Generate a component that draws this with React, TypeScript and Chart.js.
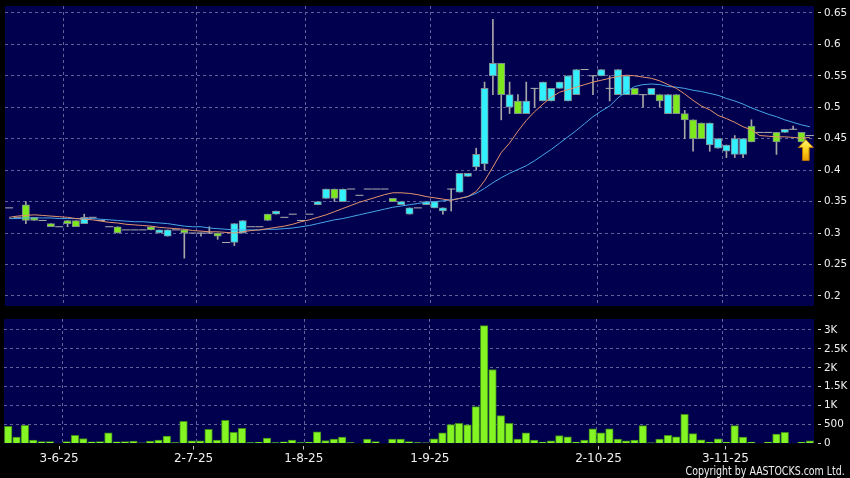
import React, { useEffect, useRef } from "react";
import { Chart, registerables } from "chart.js";

Chart.register(...registerables);

// ---- data ----
const dateLabels = ["3-6-25", "2-7-25", "1-8-25", "1-9-25", "2-10-25", "3-11-25"];
const dateLabelIndex = [6.1, 22.2, 35.4, 50.5, 70.7, 85.9];
const dateGridIndex = [6.5, 22.5, 35.5, 50.5, 70.5, 85.5];

const openP = [
  0.34, 0.325, 0.345, 0.325, 0.32, 0.315, 0.31, 0.32, 0.32, 0.315,
  0.325, 0.32, 0.31, 0.31, 0.305, 0.305, 0.305, 0.31, 0.30, 0.295,
  0.305, 0.305, 0.30, 0.30, 0.30, 0.30, 0.285, 0.285, 0.30, 0.31,
  0.31, 0.33, 0.33, 0.325, 0.33, 0.32, 0.33, 0.345, 0.355, 0.37,
  0.35, 0.37, 0.36, 0.37, 0.37, 0.37, 0.355, 0.345, 0.33, 0.34,
  0.345, 0.34, 0.335, 0.37, 0.365, 0.39, 0.405, 0.41, 0.55, 0.57,
  0.50, 0.51, 0.49, 0.53, 0.51, 0.51, 0.53, 0.51, 0.52, 0.56,
  0.55, 0.55, 0.53, 0.52, 0.52, 0.53, 0.52, 0.52, 0.52, 0.49,
  0.52, 0.49, 0.48, 0.475, 0.44, 0.435, 0.43, 0.425, 0.425, 0.47,
  0.46, 0.46, 0.46, 0.46, 0.465, 0.46, 0.455,
];
const highP = [
  0.34, 0.325, 0.35, 0.325, 0.32, 0.315, 0.31, 0.32, 0.32, 0.33,
  0.325, 0.32, 0.31, 0.31, 0.305, 0.305, 0.305, 0.31, 0.305, 0.305,
  0.305, 0.305, 0.30, 0.30, 0.31, 0.30, 0.285, 0.315, 0.32, 0.31,
  0.31, 0.33, 0.335, 0.325, 0.33, 0.32, 0.33, 0.35, 0.37, 0.37,
  0.37, 0.37, 0.36, 0.37, 0.37, 0.37, 0.355, 0.35, 0.34, 0.34,
  0.35, 0.35, 0.34, 0.37, 0.395, 0.395, 0.435, 0.54, 0.64, 0.57,
  0.54, 0.52, 0.54, 0.53, 0.54, 0.53, 0.54, 0.55, 0.56, 0.56,
  0.55, 0.56, 0.55, 0.56, 0.55, 0.53, 0.52, 0.53, 0.52, 0.52,
  0.52, 0.495, 0.48, 0.475, 0.475, 0.45, 0.44, 0.455, 0.45, 0.48,
  0.46, 0.46, 0.46, 0.465, 0.47, 0.46, 0.455,
];
const lowP = [
  0.34, 0.325, 0.315, 0.32, 0.32, 0.31, 0.31, 0.31, 0.31, 0.315,
  0.325, 0.32, 0.31, 0.30, 0.305, 0.305, 0.305, 0.305, 0.30, 0.295,
  0.305, 0.26, 0.30, 0.295, 0.30, 0.29, 0.285, 0.28, 0.30, 0.31,
  0.31, 0.32, 0.33, 0.325, 0.33, 0.32, 0.33, 0.345, 0.355, 0.35,
  0.35, 0.37, 0.36, 0.37, 0.37, 0.37, 0.35, 0.345, 0.33, 0.34,
  0.345, 0.34, 0.33, 0.335, 0.365, 0.39, 0.40, 0.40, 0.52, 0.48,
  0.49, 0.49, 0.49, 0.50, 0.51, 0.51, 0.53, 0.51, 0.52, 0.56,
  0.52, 0.55, 0.51, 0.52, 0.52, 0.52, 0.50, 0.52, 0.50, 0.49,
  0.49, 0.45, 0.43, 0.45, 0.43, 0.435, 0.42, 0.42, 0.42, 0.445,
  0.46, 0.46, 0.425, 0.46, 0.465, 0.445, 0.455,
];
const closeP = [
  0.34, 0.325, 0.32, 0.32, 0.32, 0.31, 0.31, 0.315, 0.31, 0.325,
  0.325, 0.32, 0.31, 0.30, 0.305, 0.305, 0.305, 0.305, 0.305, 0.305,
  0.305, 0.30, 0.30, 0.30, 0.30, 0.295, 0.285, 0.315, 0.32, 0.31,
  0.31, 0.32, 0.335, 0.325, 0.33, 0.32, 0.33, 0.35, 0.37, 0.355,
  0.37, 0.37, 0.36, 0.37, 0.37, 0.37, 0.35, 0.35, 0.34, 0.34,
  0.35, 0.35, 0.34, 0.37, 0.395, 0.395, 0.425, 0.53, 0.57, 0.52,
  0.52, 0.49, 0.51, 0.53, 0.54, 0.53, 0.54, 0.55, 0.56, 0.56,
  0.55, 0.56, 0.53, 0.56, 0.55, 0.52, 0.52, 0.53, 0.51, 0.52,
  0.49, 0.48, 0.45, 0.45, 0.475, 0.45, 0.44, 0.45, 0.45, 0.445,
  0.46, 0.46, 0.445, 0.465, 0.465, 0.445, 0.455,
];
const volume = [
  456, 167, 482, 88, 53, 53, 0, 53, 219, 132,
  44, 53, 281, 44, 53, 61, 15, 61, 88, 193,
  26, 588, 70, 70, 377, 88, 614, 298, 404, 26,
  35, 140, 26, 44, 88, 26, 35, 307, 79, 114,
  167, 26, 0, 114, 53, 0, 114, 114, 53, 26,
  18, 123, 281, 500, 535, 491, 974, 3114, 1956, 737,
  535, 114, 281, 88, 35, 70, 211, 175, 35, 88,
  386, 281, 386, 114, 70, 88, 474, 18, 114, 219,
  175, 772, 263, 96, 35, 123, 35, 474, 167, 35,
  0, 35, 246, 298, 0, 35, 70,
];
const ma10 = [
  0.325, 0.327, 0.328, 0.329, 0.328, 0.327, 0.326, 0.325, 0.323, 0.322,
  0.321, 0.319, 0.317, 0.316, 0.314, 0.313, 0.312, 0.311, 0.309, 0.308,
  0.307, 0.306, 0.304, 0.303, 0.302, 0.302, 0.301, 0.300, 0.302, 0.304,
  0.305, 0.307, 0.309, 0.311, 0.314, 0.318, 0.321, 0.325, 0.329, 0.334,
  0.339, 0.344, 0.349, 0.353, 0.357, 0.361, 0.364, 0.364, 0.363, 0.361,
  0.358, 0.356, 0.354, 0.352, 0.355, 0.358, 0.366, 0.383, 0.405, 0.428,
  0.443, 0.462, 0.479, 0.493, 0.505, 0.516, 0.524, 0.528, 0.532, 0.536,
  0.540, 0.543, 0.546, 0.549, 0.551, 0.550, 0.548, 0.546, 0.542, 0.536,
  0.530, 0.521, 0.511, 0.502, 0.496, 0.487, 0.482, 0.476, 0.469, 0.464,
  0.455, 0.454, 0.453, 0.453, 0.452, 0.451, 0.452,
];
const ma20 = [
  0.323, 0.323, 0.324, 0.324, 0.324, 0.324, 0.323, 0.323, 0.323, 0.323,
  0.323, 0.322, 0.321, 0.320, 0.319, 0.318, 0.318, 0.317, 0.316, 0.315,
  0.313, 0.311, 0.310, 0.310, 0.308, 0.307, 0.306, 0.305, 0.305, 0.305,
  0.305, 0.306, 0.306, 0.307, 0.308, 0.310, 0.312, 0.315, 0.318, 0.321,
  0.323, 0.326, 0.329, 0.332, 0.335, 0.338, 0.341, 0.343, 0.345, 0.347,
  0.349, 0.350, 0.351, 0.353, 0.355, 0.358, 0.363, 0.371, 0.380, 0.388,
  0.395, 0.401, 0.407, 0.415, 0.424, 0.433, 0.443, 0.453, 0.463, 0.474,
  0.485, 0.494, 0.502, 0.515, 0.525, 0.533, 0.536, 0.537, 0.536, 0.533,
  0.532, 0.530, 0.527, 0.525, 0.522, 0.519, 0.514, 0.510, 0.505, 0.499,
  0.494, 0.489, 0.485, 0.480, 0.476, 0.472, 0.469,
];
const priceTicks = [0.2, 0.25, 0.3, 0.35, 0.4, 0.45, 0.5, 0.55, 0.6, 0.65];
const priceTickLabels = ["0.2", "0.25", "0.3", "0.35", "0.4", "0.45", "0.5", "0.55", "0.6", "0.65"];
const volumeTicks = [0, 500, 1000, 1500, 2000, 2500, 3000];
const volumeTickLabels = ["0", "500", "1K", "1.5K", "2K", "2.5K", "3K"];

// ---- styles ----
const NAVY = "#00004f";
const GRID = "#62629a";
const TEXT = "#f0f0f0";
const CYAN = "#33f0ff";
const GREEN = "#7ee81e";
const VOL_GREEN = "#84f523";
const FONT = "DejaVu Sans";
const X_MIN = -0.5;
const X_MAX = 96.5;
const AXIS_W = 36;

const panelBg = {
  id: "panelBg",
  beforeDraw(chart: any) {
    const { ctx, chartArea: a } = chart;
    ctx.save();
    ctx.fillStyle = NAVY;
    ctx.fillRect(a.left, a.top, a.right - a.left, a.bottom - a.top);
    ctx.restore();
  },
};

const lastArrow = {
  id: "lastArrow",
  afterDatasetsDraw(chart: any) {
    const { ctx } = chart;
    const xs = chart.scales.x;
    const ys = chart.scales.y;
    const last = closeP.length - 1;
    const cx = xs.getPixelForValue(last) - 4;
    const tip = ys.getPixelForValue(closeP[last]) + 4;
    ctx.save();
    const g = ctx.createLinearGradient(0, tip, 0, tip + 21);
    g.addColorStop(0, "#fff37a");
    g.addColorStop(0.5, "#ffd21a");
    g.addColorStop(1, "#e79a00");
    ctx.beginPath();
    ctx.moveTo(cx, tip);
    ctx.lineTo(cx + 7.5, tip + 8);
    ctx.lineTo(cx + 3.3, tip + 8);
    ctx.lineTo(cx + 3.3, tip + 21);
    ctx.lineTo(cx - 3.3, tip + 21);
    ctx.lineTo(cx - 3.3, tip + 8);
    ctx.lineTo(cx - 7.5, tip + 8);
    ctx.closePath();
    ctx.fillStyle = g;
    ctx.fill();
    ctx.lineWidth = 1;
    ctx.strokeStyle = "#b77200";
    ctx.stroke();
    ctx.restore();
  },
};

function noPad(s: any) {
  s.paddingTop = 0;
  s.paddingBottom = 0;
  s.paddingLeft = 0;
  s.paddingRight = 0;
}

function buildPriceConfig(): any {
  const idx = closeP.map((_, i) => i);
  const bodies = idx.map((i) => ({ x: i, y: openP[i] !== closeP[i] ? [openP[i], closeP[i]] : null }));
  const wicks = idx.map((i) => ({ x: i, y: highP[i] > lowP[i] ? [lowP[i], highP[i]] : null }));
  const flats = idx.map((i) => ({ x: i, y: openP[i] === closeP[i] ? closeP[i] : null }));
  return {
    data: {
      datasets: [
        {
          type: "line",
          data: idx.map((i) => ({ x: i, y: ma10[i] })),
          borderColor: "#e3936c",
          borderWidth: 1,
          pointRadius: 0,
          tension: 0,
          order: 0,
        },
        {
          type: "line",
          data: idx.map((i) => ({ x: i, y: ma20[i] })),
          borderColor: "#47a6e6",
          borderWidth: 1,
          pointRadius: 0,
          tension: 0,
          order: 1,
        },
        {
          type: "bar",
          data: bodies,
          grouped: false,
          barThickness: 7.3,
          backgroundColor: (c: any) => (closeP[c.dataIndex] > openP[c.dataIndex] ? CYAN : GREEN),
          borderColor: "#7f8d93",
          borderWidth: 1,
          borderSkipped: false,
          order: 2,
        },
        {
          type: "line",
          data: flats,
          showLine: false,
          pointStyle: "line",
          pointRadius: 4,
          pointBorderColor: "#b0b0b0",
          pointBorderWidth: 1,
          order: 3,
        },
        {
          type: "bar",
          data: wicks,
          grouped: false,
          barThickness: 1,
          backgroundColor: "#a6a6a6",
          borderWidth: 0,
          order: 4,
        },
      ],
    },
    options: {
      animation: false,
      responsive: false,
      devicePixelRatio: 1,
      layout: { padding: { left: 4, top: 6, right: 0, bottom: 6 } },
      plugins: { legend: { display: false }, tooltip: { enabled: false } },
      scales: {
        x: {
          type: "linear",
          min: X_MIN,
          max: X_MAX,
          offset: false,
          afterBuildTicks: (s: any) => {
            s.ticks = dateGridIndex.map((v) => ({ value: v }));
          },
          afterFit: (s: any) => {
            s.height = 0;
            noPad(s);
          },
          ticks: { display: false },
          grid: { color: GRID, drawTicks: false, lineWidth: 1, offset: false },
          border: { display: false, dash: [3, 3] },
        },
        y: {
          type: "linear",
          position: "right",
          min: 0.184,
          max: 0.661,
          afterBuildTicks: (s: any) => {
            s.ticks = priceTicks.map((v) => ({ value: v }));
          },
          afterFit: (s: any) => {
            s.width = AXIS_W;
            noPad(s);
          },
          ticks: {
            color: TEXT,
            font: { family: FONT, size: 10.4 },
            padding: 3,
            callback: (_v: any, i: number) => priceTickLabels[i],
          },
          grid: {
            color: GRID,
            tickLength: 7,
            tickColor: "#d0d0d0",
            tickBorderDash: [0, 4, 3, 100],
          },
          border: { display: false, dash: [3, 3] },
        },
      },
    },
    plugins: [panelBg, lastArrow],
  };
}

function buildVolumeConfig(): any {
  const idx = volume.map((_, i) => i);
  return {
    type: "bar",
    data: {
      datasets: [
        {
          data: idx.map((i) => ({ x: i, y: volume[i] })),
          barThickness: 7.6,
          grouped: false,
          backgroundColor: VOL_GREEN,
          borderColor: "#3f8a1c",
          borderWidth: 1,
        },
      ],
    },
    options: {
      animation: false,
      responsive: false,
      devicePixelRatio: 1,
      layout: { padding: { left: 4, top: 7, right: 0, bottom: 0 } },
      plugins: { legend: { display: false }, tooltip: { enabled: false } },
      scales: {
        x: {
          type: "linear",
          position: "bottom",
          min: X_MIN,
          max: X_MAX,
          offset: false,
          afterBuildTicks: (s: any) => {
            s.ticks = dateLabelIndex.map((v) => ({ value: v }));
          },
          afterFit: (s: any) => {
            s.height = 34.5;
            noPad(s);
          },
          ticks: {
            color: TEXT,
            font: { family: FONT, size: 12 },
            padding: 2,
            autoSkip: false,
            maxRotation: 0,
            callback: (_v: any, i: number) => dateLabels[i],
          },
          grid: {
            drawOnChartArea: false,
            offset: false,
            tickLength: 6,
            tickColor: "#c8c8c8",
            tickBorderDash: [0, 2, 4, 100],
          },
          border: { display: false },
        },
        xg: {
          type: "linear",
          position: "top",
          min: X_MIN,
          max: X_MAX,
          offset: false,
          afterBuildTicks: (s: any) => {
            s.ticks = dateGridIndex.map((v) => ({ value: v }));
          },
          afterFit: (s: any) => {
            s.height = 0;
            noPad(s);
          },
          ticks: { display: false },
          grid: { color: GRID, drawTicks: false, offset: false },
          border: { display: false, dash: [3, 3] },
        },
        y: {
          type: "linear",
          position: "right",
          min: 0,
          max: 3290,
          afterBuildTicks: (s: any) => {
            s.ticks = volumeTicks.map((v) => ({ value: v }));
          },
          afterFit: (s: any) => {
            s.width = AXIS_W;
            noPad(s);
          },
          ticks: {
            color: TEXT,
            font: { family: FONT, size: 10.4 },
            padding: 3,
            callback: (_v: any, i: number) => volumeTickLabels[i],
          },
          grid: {
            color: (c: any) => (c.tick && c.tick.value === 0 ? "rgba(0,0,0,0)" : GRID),
            tickLength: 7,
            tickColor: "#d0d0d0",
            tickBorderDash: [0, 4, 3, 100],
          },
          border: { display: false, dash: [3, 3] },
        },
      },
    },
    plugins: [panelBg],
  };
}

export default function App() {
  const priceRef = useRef<HTMLCanvasElement>(null);
  const volRef = useRef<HTMLCanvasElement>(null);

  useEffect(() => {
    const pc = new Chart(priceRef.current as HTMLCanvasElement, buildPriceConfig());
    const vc = new Chart(volRef.current as HTMLCanvasElement, buildVolumeConfig());
    return () => {
      pc.destroy();
      vc.destroy();
    };
  }, []);

  return (
    <div
      style={{
        position: "fixed",
        left: 0,
        top: 0,
        width: 850,
        height: 478,
        background: "#000",
        overflow: "hidden",
      }}
    >
      <canvas ref={priceRef} width={850} height={312} style={{ position: "absolute", left: 0, top: 0 }} />
      <canvas ref={volRef} width={850} height={166} style={{ position: "absolute", left: 0, top: 312 }} />
      <div
        style={{
          position: "absolute",
          right: 5,
          top: 465,
          color: TEXT,
          fontFamily: FONT,
          fontSize: "11.4px",
          lineHeight: "12px",
          whiteSpace: "nowrap",
          transform: "scaleX(0.83)",
          transformOrigin: "right center",
        }}
      >
        Copyright by AASTOCKS.com Ltd.
      </div>
    </div>
  );
}
